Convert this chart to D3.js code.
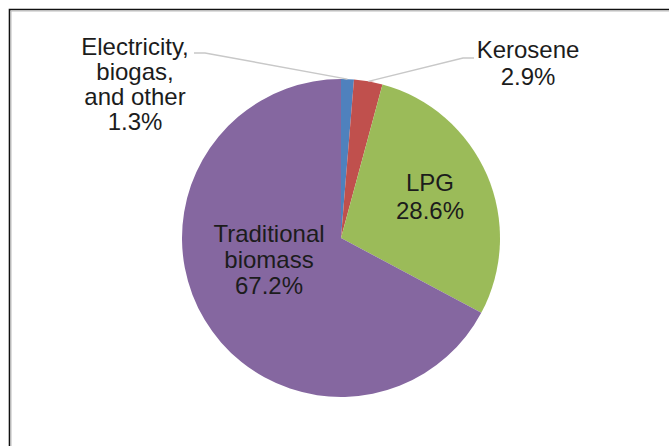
<!DOCTYPE html>
<html>
<head>
<meta charset="utf-8">
<script src="https://cdn.jsdelivr.net/npm/d3@7"></script>
<style>
  body { margin: 0; background: #fff; }
  svg text { font-family: "Liberation Sans", Arial, sans-serif; fill: #1c1c1c; }
</style>
</head>
<body>
<div id="chart"></div>
<script>
// Width and height
var chart_width = 669;
var chart_height = 446;

// data, clockwise from 12 o'clock
var categories = ["Electricity, biogas, and other", "Kerosene", "LPG", "Traditional biomass"];
var shares = [1.3, 2.9, 28.6, 67.2];
var labelLines = [
  ["Electricity,", "biogas,", "and other", "1.3%"],
  ["Kerosene", "2.9%"],
  ["LPG", "28.6%"],
  ["Traditional", "biomass", "67.2%"]
];
var colors = ["#4F81BD", "#C0504D", "#9BBB59", "#8567A0"];

var cx = 341, cy = 238, radius = 159;

var svg = d3.select("#chart").append("svg")
  .attr("width", chart_width)
  .attr("height", chart_height);

// frame (top and left edges only, rest is cropped)
svg.append("path")
  .attr("d", "M9.5,446 V9.5 H669")
  .attr("fill", "none")
  .attr("stroke", "#111")
  .attr("stroke-width", 1.6);
svg.append("path")
  .attr("d", "M11,446 V11 H669")
  .attr("fill", "none")
  .attr("stroke", "#bbb")
  .attr("stroke-width", 1);

var pie = d3.pie().sort(null).value(function(d) { return d; });
var arc = d3.arc().innerRadius(0).outerRadius(radius);
var arcs = pie(shares);

var g = svg.append("g").attr("transform", "translate(" + cx + "," + cy + ")");

g.selectAll("path.slice").data(arcs).enter().append("path")
  .attr("class", "slice")
  .attr("d", arc)
  .attr("fill", function(d, i) { return colors[i]; });

// label positions (centre x, first baseline y) in page coords
var labelPos = [
  [135, 55],
  [528, 58],
  [430, 191],
  [269, 242]
];
var lineGap = [25, 27, 28, 26];

svg.selectAll("text.lbl").data(arcs).enter().append("text")
  .attr("class", "lbl")
  .attr("text-anchor", "middle")
  .attr("font-size", "24px")
  .each(function(d, i) {
    var t = d3.select(this);
    labelLines[i].forEach(function(s, k) {
      t.append("tspan")
        .attr("x", labelPos[i][0])
        .attr("y", labelPos[i][1] + k * lineGap[i])
        .text(s);
    });
  });

// leader lines for the two small slices, ending on the arc midpoints
function edgePoint(d) {
  var a = (d.startAngle + d.endAngle) / 2;
  return [cx + radius * Math.sin(a), cy - radius * Math.cos(a)];
}
var leaders = [
  [[194, 53], [205, 53], edgePoint(arcs[0])],
  [[474, 58], [463, 58], edgePoint(arcs[1])]
];
svg.selectAll("path.leader").data(leaders).enter().append("path")
  .attr("class", "leader")
  .attr("d", d3.line())
  .attr("fill", "none")
  .attr("stroke", "#c8c8c8")
  .attr("stroke-width", 1.5);
</script>
</body>
</html>
